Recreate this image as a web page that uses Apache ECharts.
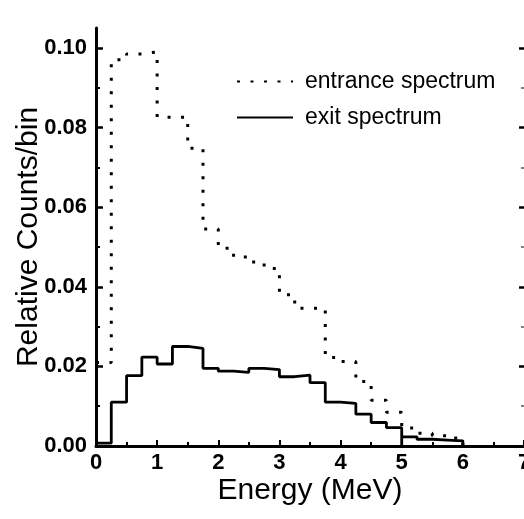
<!DOCTYPE html>
<html><head><meta charset="utf-8">
<script src="https://cdn.jsdelivr.net/npm/echarts@6/dist/echarts.min.js"></script>
<style>html,body{margin:0;padding:0;background:#fff}#c{width:524px;height:519px}</style>
</head><body><div id="c"></div>
<script>
// Bin edges (MeV), 0.25 MeV bins
const binEdges = [0,0.25,0.5,0.75,1.0,1.25,1.5,1.75,2.0,2.25,2.5,2.75,3.0,3.25,3.5,3.75,4.0,4.25,4.5,4.75,5.0,5.25,5.5,5.75,6.0];
// Relative counts per bin
const entranceSpectrum = [0.021,0.097,0.0985,0.099,0.0826,0.0826,0.0748,0.0545,0.0497,0.0475,0.0462,0.0446,0.0380,0.0346,0.0346,0.0222,0.0212,0.0162,0.0115,0.0085,0.0045,0.0032,0.0026,0.0020];
const exitSpectrum = [0.0007,0.0110,0.0177,0.0223,0.0206,0.0250,0.0245,0.0195,0.0188,0.0185,0.0195,0.0192,0.0174,0.0178,0.0159,0.0110,0.0107,0.0080,0.0059,0.0046,0.0023,0.0017,0.0015,0.0013];
// edges where the exit histogram outline returns to the baseline
const exitBaselineEdges = [5.0];
const xTickValues = [0,1,2,3,4,5,6,7];
const yMajorTicks = [0,0.02,0.04,0.06,0.08,0.10];
const yMinorTicks = [0.01,0.03,0.05,0.07,0.09];
const seriesNames = ['entrance spectrum','exit spectrum'];

function stepPoints(vals, baselineEdges) {
  const pts = [[binEdges[0], vals[0]]];
  for (let i = 0; i < vals.length; i++) {
    if (i > 0) {
      if (baselineEdges && baselineEdges.includes(binEdges[i])) pts.push([binEdges[i], 0]);
      pts.push([binEdges[i], vals[i]]);
    }
    pts.push([binEdges[i + 1], vals[i]]);
  }
  pts.push([binEdges[binEdges.length - 1], 0]);
  return pts;
}

const FONT = 'Liberation Sans, Arial, Helvetica, sans-serif';
const chart = echarts.init(document.getElementById('c'), null, {renderer: 'canvas'});
const yBase = {type: 'value', min: 0, max: 0.105, splitLine: {show: false}};
const legendBase = {
  orient: 'vertical', left: 236, padding: 0, itemWidth: 56, itemHeight: 24,
  selectedMode: false,
  itemStyle: {opacity: 0, borderWidth: 0},
  textStyle: {fontSize: 23, color: '#000', fontFamily: FONT, padding: [0, 0, 0, 7]}
};
chart.setOption({
  animation: false,
  backgroundColor: '#fff',
  grid: {left: 96, right: 0, top: 28, bottom: 73, outerBoundsMode: 'none', containLabel: false},
  legend: [
    Object.assign({}, legendBase, {data: [seriesNames[0]], top: 70}),
    Object.assign({}, legendBase, {data: [seriesNames[1]], top: 106})
  ],
  xAxis: {
    type: 'value', min: 0, max: 7, interval: 1,
    name: 'Energy (MeV)', nameLocation: 'middle', nameGap: 30, nameMoveOverlap: false,
    nameTextStyle: {fontSize: 30, color: '#000', fontFamily: FONT},
    axisLine: {lineStyle: {color: '#000', width: 3}},
    axisTick: {inside: true, length: 6, lineStyle: {color: '#000', width: 2}},
    minorTick: {show: true, splitNumber: 2, length: 4, lineStyle: {color: '#000', width: 2}},
    splitLine: {show: false},
    axisLabel: {fontSize: 22, color: '#000', margin: 6, fontFamily: FONT, fontWeight: 'bold',
      customValues: xTickValues}
  },
  yAxis: [
    Object.assign({}, yBase, {
      position: 'left',
      name: 'Relative Counts/bin', nameLocation: 'middle', nameGap: 52, nameMoveOverlap: false,
      nameTextStyle: {fontSize: 30, color: '#000', fontFamily: FONT},
      axisLine: {show: true, lineStyle: {color: '#000', width: 3}},
      axisTick: {inside: true, length: 7, customValues: yMajorTicks, lineStyle: {color: '#000', width: 2.5}},
      axisLabel: {customValues: yMajorTicks, formatter: v => v.toFixed(2), fontSize: 22, color: '#000',
        margin: 9, fontFamily: FONT, fontWeight: 'bold'}
    }),
    Object.assign({}, yBase, {
      position: 'left',
      axisLine: {show: false},
      axisTick: {inside: true, length: 4, customValues: yMinorTicks, lineStyle: {color: '#000', width: 2}},
      axisLabel: {show: false}
    }),
    Object.assign({}, yBase, {
      position: 'right',
      axisLine: {show: false},
      axisTick: {inside: true, length: 5, customValues: yMajorTicks, lineStyle: {color: '#000', width: 2.5}},
      axisLabel: {show: false}
    }),
    Object.assign({}, yBase, {
      position: 'right',
      axisLine: {show: false},
      axisTick: {inside: true, length: 3, customValues: yMinorTicks, lineStyle: {color: '#555', width: 1.5}},
      axisLabel: {show: false}
    })
  ],
  series: [
    {
      name: seriesNames[0], type: 'line', yAxisIndex: 0, symbol: 'none',
      data: stepPoints(entranceSpectrum),
      lineStyle: {color: '#000', width: 3, type: [3, 10.5]},
      itemStyle: {color: '#000'}
    },
    {
      name: seriesNames[1], type: 'line', yAxisIndex: 0, symbol: 'none',
      data: stepPoints(exitSpectrum, exitBaselineEdges),
      lineStyle: {color: '#000', width: 2.8},
      itemStyle: {color: '#000'}
    }
  ]
});
</script></body></html>
